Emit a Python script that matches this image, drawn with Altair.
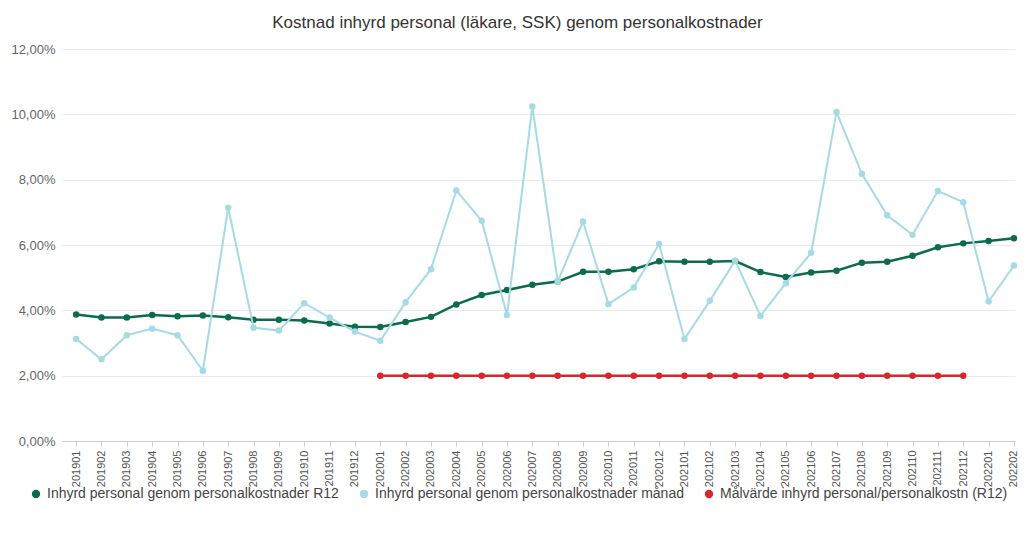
import altair as alt
import pandas as pd

months = [
    "201901", "201902", "201903", "201904", "201905", "201906", "201907", "201908",
    "201909", "201910", "201911", "201912", "202001", "202002", "202003", "202004",
    "202005", "202006", "202007", "202008", "202009", "202010", "202011", "202012",
    "202101", "202102", "202103", "202104", "202105", "202106", "202107", "202108",
    "202109", "202110", "202111", "202112", "202201", "202202",
]

r12 = [
    3.87, 3.78, 3.78, 3.86, 3.82, 3.84, 3.79, 3.71, 3.71, 3.69, 3.60, 3.50,
    3.49, 3.64, 3.80, 4.18, 4.47, 4.62, 4.78, 4.88, 5.18, 5.18, 5.26, 5.50,
    5.49, 5.49, 5.51, 5.17, 5.02, 5.16, 5.21, 5.46, 5.49, 5.67, 5.93, 6.05,
    6.12, 6.21,
]

monthly = [
    3.12, 2.50, 3.24, 3.44, 3.24, 2.15, 7.14, 3.47, 3.38, 4.22, 3.78, 3.35,
    3.07, 4.25, 5.26, 7.67, 6.74, 3.86, 10.24, 4.88, 6.72, 4.19, 4.70, 6.03,
    3.12, 4.29, 5.52, 3.83, 4.83, 5.76, 10.07, 8.18, 6.91, 6.31, 7.65, 7.31,
    4.27, 5.37,
]

target_months = months[12:36]
target = [2.00] * len(target_months)

s1 = "Inhyrd personal genom personalkostnader R12"
s2 = "Inhyrd personal genom personalkostnader månad"
s3 = "Målvärde inhyrd personal/personalkostn (R12)"
series_names = [s1, s2, s3]
colors = ["#0b6b4f", "#a6dae7", "#d8262b"]

d1 = pd.DataFrame({"month": months, "value": [v / 100 for v in r12], "series": s1})
d2 = pd.DataFrame({"month": months, "value": [v / 100 for v in monthly], "series": s2})
d3 = pd.DataFrame({"month": target_months, "value": [v / 100 for v in target], "series": s3})

x_enc = alt.X(
    "month:O",
    sort=months,
    scale=alt.Scale(domain=months, type="point", padding=0.3, align=0.93),
    axis=alt.Axis(
        title=None,
        labelAngle=-90,
        labelFontSize=11,
        labelColor="#555555",
        labelFont="Liberation Sans",
        labelPadding=4,
        tickSize=5,
        tickColor="#cccccc",
        domainColor="#cccccc",
        grid=False,
    ),
)
y_enc = alt.Y(
    "value:Q",
    scale=alt.Scale(domain=[0, 0.12]),
    axis=alt.Axis(
        title=None,
        values=[0, 0.02, 0.04, 0.06, 0.08, 0.10, 0.12],
        labelExpr="replace(format(datum.value, '.2%'), '.', ',')",
        labelFontSize=13,
        labelColor="#666666",
        labelFont="Liberation Sans",
        labelPadding=7,
        domain=False,
        ticks=False,
        gridColor="#ebebeb",
        gridWidth=1,
    ),
)
color_enc = alt.Color(
    "series:N",
    scale=alt.Scale(domain=series_names, range=colors),
    legend=alt.Legend(
        title=None,
        orient="none",
        direction="horizontal",
        legendX=-33,
        legendY=438,
        symbolType="circle",
        symbolSize=70,
        symbolStrokeWidth=0,
        labelFontSize=14,
        labelFont="Liberation Sans",
        labelColor="#444444",
        labelLimit=0,
        columnPadding=18,
        labelOffset=4,
    ),
)


def layer(df, width):
    return (
        alt.Chart(df)
        .mark_line(strokeWidth=width, point=alt.OverlayMarkDef(size=42, filled=True, opacity=1))
        .encode(x=x_enc, y=y_enc, color=color_enc)
    )


chart = (
    alt.layer(layer(d1, 2.5), layer(d2, 2), layer(d3, 2.5))
    .properties(
        width=953,
        height=392,
        title=alt.TitleParams(
            "Kostnad inhyrd personal (läkare, SSK) genom personalkostnader",
            fontSize=17,
            fontWeight="normal",
            font="Liberation Sans",
            color="#333333",
            anchor="middle",
            frame="group",
            dx=-21,
            offset=11,
        ),
        autosize=alt.AutoSizeParams(type="none"),
        padding={"left": 54, "top": 41, "right": 4, "bottom": 60},
    )
    .configure_view(stroke=None)
)

chart.save("out.html", embed_options={"renderer": "svg", "actions": False})
